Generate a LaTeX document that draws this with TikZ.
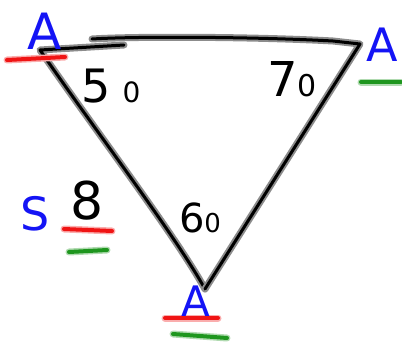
\documentclass[tikz,border=0pt]{standalone}
\usepackage{fontspec}
\setmainfont{DejaVu Sans}
\definecolor{inkblue}{RGB}{20,20,245}
\definecolor{inkred}{RGB}{240,20,20}
\definecolor{inkgreen}{RGB}{30,150,30}
\begin{document}
\begin{tikzpicture}[x=1pt,y=-1pt,
  stroke/.style={line width=3pt,line cap=round,line join=round,black,
    preaction={draw,line width=7pt,black!45,line cap=round,line join=round}},
  mark/.style={line width=4pt,line cap=round,#1,
    preaction={draw,line width=7pt,#1!35,line cap=round}},
  lbl/.style={inner sep=0pt,anchor=center},
  fs/.style={font=\fontsize{#1}{#1}\selectfont}
]
\useasboundingbox (0,0) rectangle (402,343);
% vertices
\coordinate (tl) at (40,50);
\coordinate (tr) at (360,44);
\coordinate (b) at (205,289);
\coordinate (tlend) at (124,45);
\coordinate (tstart) at (92,39);
% triangle strokes
\draw[stroke] (tlend) -- (tl) .. controls (95,130) and (175,235) .. (b);
\draw[stroke] (tstart) .. controls (140,36) and (260,37) .. (333,41) -- (tr) -- (b);
% underline coordinates
\coordinate (r1a) at (7,60);   \coordinate (r1b) at (65,57);
\coordinate (g1a) at (361,82); \coordinate (g1b) at (401,82);
\coordinate (r2a) at (64,229); \coordinate (r2b) at (112,231);
\coordinate (g2a) at (69,252); \coordinate (g2b) at (107,250);
\coordinate (r3a) at (165,318);\coordinate (r3b) at (218,318);
\coordinate (g3a) at (173,334);\coordinate (g3b) at (227,338);
\draw[mark=inkred] (r1a) -- (r1b);
\draw[mark=inkgreen] (g1a) -- (g1b);
\draw[mark=inkred] (r2a) -- (r2b);
\draw[mark=inkgreen] (g2a) -- (g2b);
\draw[mark=inkred] (r3a) -- (r3b);
\draw[mark=inkgreen] (g3a) -- (g3b);
% labels
\node[lbl,fs=50,text=inkblue] (Atl) at (45,31) {A};
\node[lbl,fs=46,text=inkblue] (Atr) at (382,45) {A};
\node[lbl,fs=42,text=inkblue] (Ab) at (196,301) {A};
\node[lbl,fs=46] (a50) at (111,86) {5\hspace{12pt}{\fontsize{28}{28}\selectfont 0}};
\node[lbl,fs=48] (a70) at (292,79) {7{\fontsize{30}{30}\selectfont 0}};
\node[lbl,fs=40] (a60) at (200,218) {6{\fontsize{26}{26}\selectfont 0}};
\node[lbl,fs=46,text=inkblue] (S) at (35,214) {S};
\node[lbl,fs=52] (n8) at (87,201) {8};
\end{tikzpicture}
\end{document}
